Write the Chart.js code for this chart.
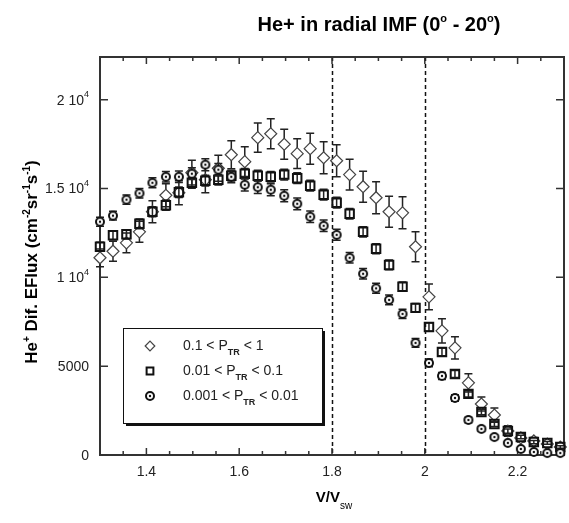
<!DOCTYPE html>
<html>
<head>
<meta charset="utf-8">
<script src="https://cdn.jsdelivr.net/npm/chart.js@4.4.0/dist/chart.umd.min.js"></script>
<style>
  html, body { margin: 0; padding: 0; background: #fff; overflow: hidden; }
  #wrap { width: 569px; height: 523px; overflow: hidden; }
</style>
</head>
<body>
<div id="wrap"><canvas id="myChart" width="572" height="523"></canvas></div>
<script>
/* Datos */

const vRatio = [1.300, 1.328, 1.357, 1.385, 1.413, 1.442, 1.470, 1.498, 1.527, 1.555,
                1.583, 1.612, 1.640, 1.668, 1.697, 1.725, 1.753, 1.782, 1.810, 1.838,
                1.867, 1.895, 1.923, 1.952, 1.980, 2.009, 2.037, 2.065, 2.094, 2.122,
                2.150, 2.179, 2.207, 2.235, 2.264, 2.292];

// 0.1 < P_TR < 1 (rombos)
const fluxAlta = [11100, 11470, 11940, 12560, 13690, 14620, 14760, 15890, 15490, 16140,
                  16900, 16510, 17860, 18080, 17490, 16960, 17240, 16730, 16560, 15780,
                  15100, 14480, 13690, 13630, 11720, 8900, 6990, 6030, 4060, 2870,
                  2250, 1350, 960, 790, 620, 450];
const errAlta = [500, 560, 560, 590, 620, 650, 680, 700, 730, 730,
                 790, 840, 820, 840, 840, 840, 870, 900, 900, 870,
                 870, 900, 870, 900, 840, 730, 680, 620, 510, 400,
                 400, 300, 230, 200, 180, 160];

// 0.01 < P_TR < 0.1 (cuadrados)
const fluxMedia = [11720, 12370, 12420, 13010, 13690, 14060, 14790, 15320, 15440, 15490,
                   15720, 15830, 15720, 15660, 15780, 15580, 15160, 14650, 14200, 13580,
                   12560, 11610, 10700, 9470, 8280, 7210, 5800, 4560, 3440, 2420,
                   1750, 1350, 1010, 730, 680, 450];
const errMedia = [250, 250, 260, 270, 280, 290, 300, 300, 300, 300,
                  300, 300, 300, 300, 300, 300, 300, 300, 300, 300,
                  290, 280, 270, 260, 250, 240, 220, 200, 180, 160,
                  140, 120, 100, 90, 80, 70];

// 0.001 < P_TR < 0.01 (circulos)
const fluxBaja = [13130, 13470, 14370, 14730, 15320, 15660, 15660, 15830, 16340, 16060,
                  15660, 15210, 15070, 14930, 14590, 14140, 13410, 12900, 12390, 11100,
                  10200, 9380, 8730, 7940, 6310, 5180, 4450, 3210, 1970, 1470,
                  1010, 680, 340, 170, 110, 110];
const errBaja = [250, 250, 260, 270, 280, 290, 320, 330, 340, 340,
                 340, 350, 350, 340, 340, 330, 320, 320, 310, 300,
                 290, 280, 270, 260, 240, 220, 200, 180, 150, 130,
                 110, 90, 70, 60, 50, 50];

const xTicks = [1.4, 1.6, 1.8, 2.0, 2.2];
const yTicks = [0, 5000, 10000, 15000, 20000];
const yTickTexto = ['0', '5000', '1 10', '1.5 10', '2 10'];
const yTickExp = ['', '', '4', '4', '4'];
const lineasRef = [1.8, 2.0];

const leyenda = [
  ['0.1 < P', 'TR', ' < 1'],
  ['0.01 < P', 'TR', ' < 0.1'],
  ['0.001 < P', 'TR', ' < 0.01']
];

/* ============================== */

const FUENTE = "'Liberation Sans', Arial, sans-serif";
const ctx = document.getElementById('myChart');

function crearCirculo() {
  let c = document.createElement('canvas');
  c.width = 12;
  c.height = 12;
  let g = c.getContext('2d');
  g.fillStyle = '#fff';
  g.strokeStyle = '#111';
  g.lineWidth = 2;
  g.beginPath();
  g.arc(6, 6, 4, 0, 2 * Math.PI);
  g.fill();
  g.stroke();
  g.fillStyle = '#111';
  g.beginPath();
  g.arc(6, 6, 1.2, 0, 2 * Math.PI);
  g.fill();
  return c;
}
const circulo = crearCirculo();

function puntos(ys) {
  return vRatio.map((x, i) => ({ x: x, y: ys[i] }));
}

// texto con partes (sub/superindices)
function textoRico(g, partes, x, y, align) {
  let total = 0;
  partes.forEach(p => { g.font = p.font; total += g.measureText(p.t).width; });
  let cx = x;
  if (align === 'right') cx = x - total;
  if (align === 'center') cx = x - total / 2;
  partes.forEach(p => {
    g.font = p.font;
    g.fillText(p.t, cx, y + (p.dy || 0));
    cx += g.measureText(p.t).width;
  });
}

/* ============================== */

const barrasError = {
  id: 'barrasError',
  beforeDatasetDraw(chart, args) {
    let ds = chart.data.datasets[args.index];
    if (!ds.errores) return;
    let g = chart.ctx;
    let sx = chart.scales.x, sy = chart.scales.y;
    g.save();
    g.strokeStyle = '#222';
    g.lineWidth = 1.5;
    ds.data.forEach((p, i) => {
      let e = ds.errores[i];
      let px = sx.getPixelForValue(p.x);
      let y1 = sy.getPixelForValue(p.y + e);
      let y2 = sy.getPixelForValue(p.y - e);
      g.beginPath();
      g.moveTo(px, y1); g.lineTo(px, y2);
      g.moveTo(px - 4, y1); g.lineTo(px + 4, y1);
      g.moveTo(px - 4, y2); g.lineTo(px + 4, y2);
      g.stroke();
    });
    g.restore();
  }
};

const marco = {
  id: 'marco',
  beforeDatasetsDraw(chart) {
    let g = chart.ctx;
    let a = chart.chartArea;
    let sx = chart.scales.x, sy = chart.scales.y;
    g.save();
    // lineas punteadas
    g.strokeStyle = '#111';
    g.lineWidth = 1.5;
    g.setLineDash([4, 3]);
    lineasRef.forEach(v => {
      let px = Math.round(sx.getPixelForValue(v)) + 0.5;
      g.beginPath();
      g.moveTo(px, a.top);
      g.lineTo(px, a.bottom);
      g.stroke();
    });
    g.setLineDash([]);
    // marco
    g.strokeStyle = '#333';
    g.lineWidth = 2;
    g.strokeRect(a.left, a.top, a.right - a.left, a.bottom - a.top);
    // ticks hacia dentro
    g.lineWidth = 1.5;
    g.beginPath();
    for (let v = 1.3; v <= 2.301; v += 0.05) {
      let px = sx.getPixelForValue(v);
      let mayor = xTicks.some(t => Math.abs(t - v) < 1e-6);
      let l = mayor ? 7 : 4;
      g.moveTo(px, a.bottom); g.lineTo(px, a.bottom - l);
      g.moveTo(px, a.top); g.lineTo(px, a.top + l);
    }
    yTicks.forEach(v => {
      let py = sy.getPixelForValue(v);
      g.moveTo(a.left, py); g.lineTo(a.left + 8, py);
      g.moveTo(a.right, py); g.lineTo(a.right - 8, py);
    });
    g.stroke();
    g.restore();
  },
  afterDraw(chart) {
    let g = chart.ctx;
    let sy = chart.scales.y;
    g.save();
    g.fillStyle = '#222';
    g.textBaseline = 'middle';
    // etiquetas eje y
    yTicks.forEach((v, i) => {
      let py = sy.getPixelForValue(v);
      textoRico(g, [
        { t: yTickTexto[i], font: '14px ' + FUENTE },
        { t: yTickExp[i], font: '9px ' + FUENTE, dy: -6 }
      ], 89, py + 1, 'right');
    });
    g.textBaseline = 'alphabetic';
    g.fillStyle = '#000';
    // titulo
    textoRico(g, [
      { t: 'He+ in radial IMF (0', font: 'bold 20px ' + FUENTE },
      { t: 'o', font: 'bold 11px ' + FUENTE, dy: -9 },
      { t: ' - 20', font: 'bold 20px ' + FUENTE },
      { t: 'o', font: 'bold 11px ' + FUENTE, dy: -9 },
      { t: ')', font: 'bold 20px ' + FUENTE }
    ], 379, 31, 'center');
    // titulo eje x
    textoRico(g, [
      { t: 'V/V', font: 'bold 15px ' + FUENTE },
      { t: 'sw', font: '10px ' + FUENTE, dy: 7 }
    ], 334, 502, 'center');
    // titulo eje y
    g.translate(37, 262);
    g.rotate(-Math.PI / 2);
    textoRico(g, [
      { t: 'He', font: 'bold 17px ' + FUENTE },
      { t: '+', font: 'bold 10px ' + FUENTE, dy: -7 },
      { t: ' Dif. EFlux (cm', font: 'bold 17px ' + FUENTE },
      { t: '-2', font: 'bold 10px ' + FUENTE, dy: -7 },
      { t: 'sr', font: 'bold 17px ' + FUENTE },
      { t: '-1', font: 'bold 10px ' + FUENTE, dy: -7 },
      { t: 's', font: 'bold 17px ' + FUENTE },
      { t: '-1', font: 'bold 10px ' + FUENTE, dy: -7 },
      { t: ')', font: 'bold 17px ' + FUENTE }
    ], 0, 0, 'center');
    g.restore();

    // leyenda
    g.save();
    let bx = 123, by = 328, bw = 199, bh = 95;
    g.fillStyle = '#111';
    g.fillRect(bx + 3, by + 3, bw, bh);
    g.fillStyle = '#fff';
    g.fillRect(bx, by, bw, bh);
    g.strokeStyle = '#111';
    g.lineWidth = 1;
    g.strokeRect(bx + 0.5, by + 0.5, bw, bh);
    let filas = [346, 371, 396];
    [0, 1, 2].forEach(i => {
      let ds = chart.data.datasets[i];
      g.strokeStyle = ds.borderColor;
      g.fillStyle = '#fff';
      g.lineWidth = ds.borderWidth;
      Chart.helpers.drawPoint(g, {
        pointStyle: ds.pointStyle, radius: ds.pointRadius * 0.8,
        borderWidth: ds.borderWidth, rotation: 0
      }, 150, filas[i]);
      g.fillStyle = '#222';
      g.textBaseline = 'middle';
      textoRico(g, [
        { t: leyenda[i][0], font: '14px ' + FUENTE },
        { t: leyenda[i][1], font: 'bold 9px ' + FUENTE, dy: 7 },
        { t: leyenda[i][2], font: '14px ' + FUENTE }
      ], 183, filas[i], 'left');
    });
    g.restore();
  }
};

/* ============================== */

function start_chart() {
  const config = {
    type: 'scatter',
    data: {
      datasets: [{
        label: '0.1 < P_TR < 1',
        data: puntos(fluxAlta),
        errores: errAlta,
        pointStyle: 'rectRot',
        pointRadius: 6,
        borderWidth: 1.2,
        borderColor: '#444',
        backgroundColor: '#fff',
        order: 2,
        clip: false
      }, {
        label: '0.01 < P_TR < 0.1',
        data: puntos(fluxMedia),
        errores: errMedia,
        pointStyle: 'rect',
        pointRadius: 6,
        borderWidth: 2,
        borderColor: '#111',
        backgroundColor: 'rgba(255,255,255,0)',
        order: 1,
        clip: false
      }, {
        label: '0.001 < P_TR < 0.01',
        data: puntos(fluxBaja),
        errores: errBaja,
        pointStyle: circulo,
        pointRadius: 5,
        borderWidth: 2,
        borderColor: '#111',
        backgroundColor: '#fff',
        order: 0,
        clip: false
      }]
    },
    options: {
      responsive: false,
      animation: false,
      layout: { padding: { top: 57, right: 1, left: 0, bottom: 0 } },
      plugins: {
        legend: { display: false },
        tooltip: { enabled: false },
        title: { display: false }
      },
      scales: {
        x: {
          type: 'linear',
          min: 1.3,
          max: 2.3,
          afterFit: s => { s.height = 68; },
          afterBuildTicks: s => { s.ticks = xTicks.map(v => ({ value: v })); },
          grid: { display: false, drawTicks: false },
          border: { display: false },
          ticks: {
            color: '#222',
            padding: 9,
            font: { family: FUENTE, size: 14 },
            callback: v => String(v)
          }
        },
        y: {
          min: 0,
          max: 22400,
          afterFit: s => { s.width = 100; },
          grid: { display: false, drawTicks: false },
          border: { display: false },
          ticks: { display: false }
        }
      }
    },
    plugins: [barrasError, marco]
  };
  new Chart(ctx, config);
}

window.addEventListener('load', start_chart);
</script>
</body>
</html>
